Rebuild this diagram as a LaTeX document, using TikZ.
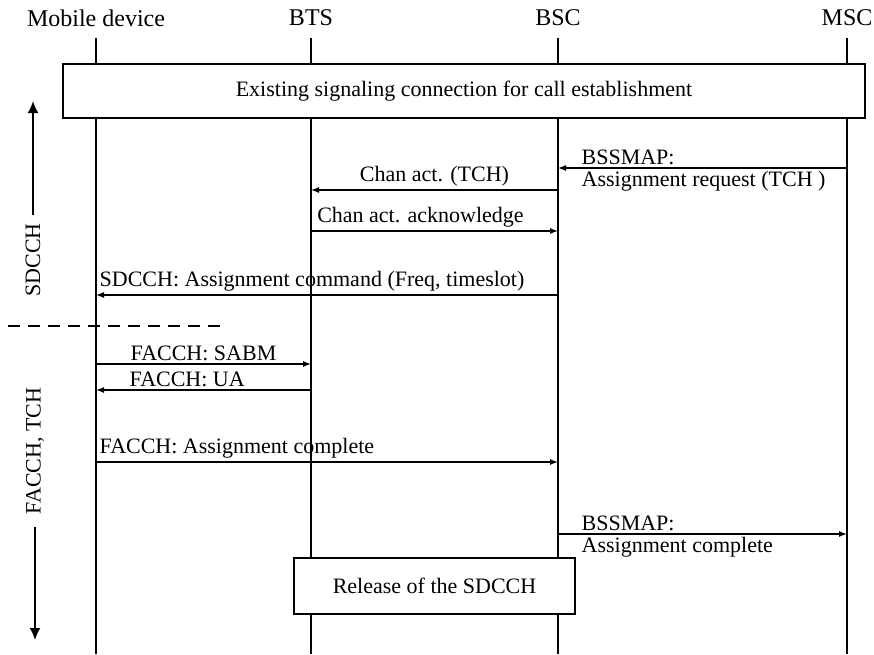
\documentclass[tikz,border=0pt]{standalone}
\usepackage{fontspec}
\setmainfont{Liberation Serif}
\usetikzlibrary{arrows.meta}

\tikzset{
    lifeline/.style={line width=1.6pt},
    msg/.style={line width=1.3pt, -{Latex[length=8pt,width=6pt]}},
    phase/.style={line width=1.8pt, -{Latex[length=12pt,width=11pt]}},
    sigbox/.style={draw, line width=2pt, fill=white, inner sep=0pt},
    head/.style={font=\fontsize{24}{26}\selectfont},
    lbl/.style={inner sep=3pt},
}

\begin{document}
\begin{tikzpicture}[x=1pt,y=-1pt,font=\fontsize{22}{24}\selectfont]
    \useasboundingbox (0,0) rectangle (874,654);
    % Lifelines
    \foreach \name/\x/\i in {Mobile device/96/1,BTS/311/2,BSC/558/3,MSC/847/4} {
        \node[head] (Head-\i) at (\x,18) {\name};
        \coordinate (Top-\i) at (\x,38);
        \coordinate (Bot-\i) at (\x,654);
        \draw[lifeline] (Top-\i) -- (Bot-\i);
    }
    % Message rows
    \foreach \y/\r in {168/1,190/2,231/3,295/4,364/5,390/6,462/7,534/8} {
        \foreach \x/\i in {96/1,311/2,558/3,847/4} {
            \coordinate (Row\r-\i) at (\x,\y);
        }
    }
    % Boxes
    \node[sigbox, minimum width=802pt, minimum height=54pt] (Setup) at (464,91)
        {Existing signaling connection for call establishment};
    \node[sigbox, minimum width=281pt, minimum height=56pt] (Release) at (434.5,586)
        {Release of the SDCCH};
    % Arrows
    \draw[msg] (Row1-4) -- (Row1-3)
        node[pos=1, lbl, anchor=south west, xshift=20pt] {BSSMAP:}
        node[pos=1, lbl, anchor=north west, xshift=20pt] {Assignment request (TCH )};
    \draw[msg] (Row2-3) -- (Row2-2) node[midway, lbl, above] {Chan act. (TCH)};
    \draw[msg] (Row3-2) -- (Row3-3) node[midway, lbl, above, xshift=-14pt] {Chan act. acknowledge};
    \draw[msg] (Row4-3) -- (Row4-1) node[pos=1, lbl, anchor=south west] {SDCCH: Assignment command (Freq, timeslot)};
    \draw[msg] (Row5-1) -- (Row5-2) node[midway, lbl, above] {FACCH: SABM};
    \draw[msg] (Row6-2) -- (Row6-1) node[pos=1, lbl, anchor=south west, xshift=30pt] {FACCH: UA};
    \draw[msg] (Row7-1) -- (Row7-3) node[pos=0, lbl, anchor=south west] {FACCH: Assignment complete};
    \draw[msg] (Row8-3) -- (Row8-4)
        node[pos=0, lbl, anchor=south west, xshift=20pt] {BSSMAP:}
        node[pos=0, lbl, anchor=north west, xshift=20pt] {Assignment complete};
    % Channel phases
    \node[rotate=90] (Sdcch) at (33,260) {SDCCH};
    \coordinate (SdcchFoot) at (33,215);
    \coordinate (SdcchTip) at (33,101);
    \draw[phase] (SdcchFoot) -- (SdcchTip);
    \node[rotate=90] (Facch) at (35,451) {FACCH, TCH};
    \coordinate (FacchFoot) at (35,527);
    \coordinate (FacchTip) at (35,640);
    \draw[phase] (FacchFoot) -- (FacchTip);
    \coordinate (SplitA) at (8,326);
    \coordinate (SplitB) at (224,326);
    \draw[line width=1.6pt, dash pattern=on 12pt off 8pt] (SplitA) -- (SplitB);
\end{tikzpicture}
\end{document}
